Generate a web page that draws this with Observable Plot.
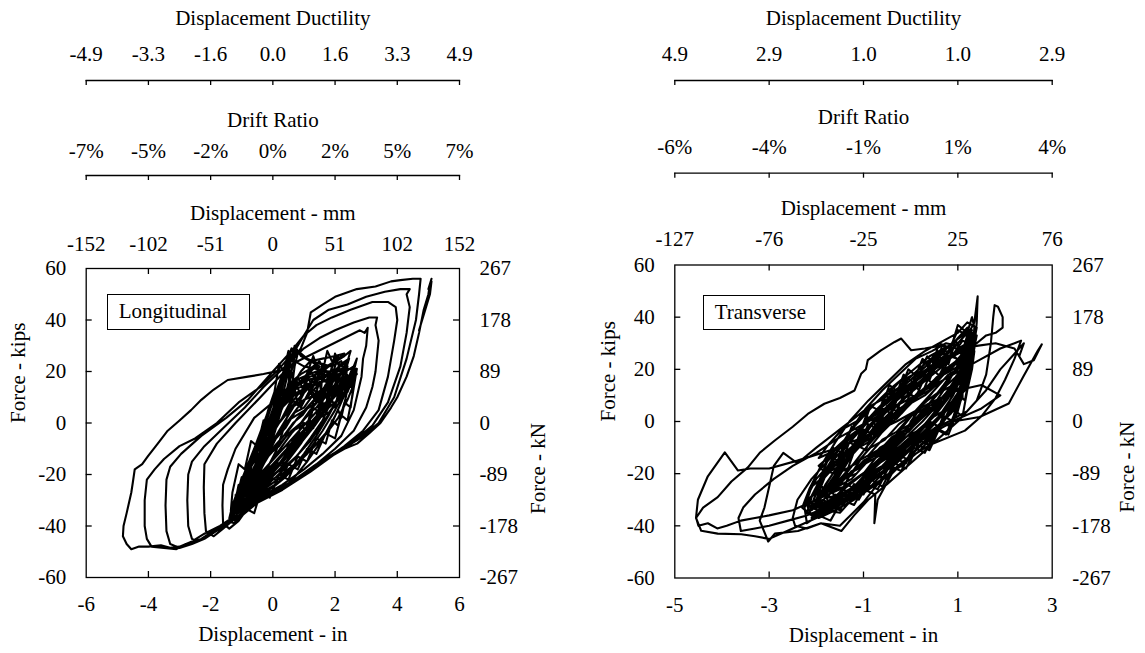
<!DOCTYPE html>
<html>
<head>
<meta charset="utf-8">
<script src="https://cdn.jsdelivr.net/npm/d3@7"></script>
<script src="https://cdn.jsdelivr.net/npm/@observablehq/plot@0.6"></script>
<style>
  html, body { margin: 0; padding: 0; background: #fff; }
  #page { position: relative; width: 1145px; height: 653px; overflow: hidden;
          font-family: "Liberation Serif", "Times New Roman", Times, "DejaVu Serif", serif; color: #000; }
  .panel { position: absolute; top: 0; height: 653px; }
  .layer { position: absolute; left: 0; top: 0; }
  .tag { position: absolute; box-sizing: border-box; border: 1.3px solid #000; background: #fff;
         font-size: 21px; line-height: 1; padding-left: 11px; display: flex; align-items: center; }
  svg { display: block; }
</style>
</head>
<body>
<div id="page"></div>
<script>
// ---------- axis ticks and labels ----------
const kipTicks = [-60, -40, -20, 0, 20, 40, 60];
const kipLabels = ["-60", "-40", "-20", "0", "20", "40", "60"];
const kNLabels = ["-267", "-178", "-89", "0", "89", "178", "267"];
const innerKipTicks = [-40, -20, 0, 20, 40];

const longDispTicks = [-6, -4, -2, 0, 2, 4, 6];
const longInLabels = ["-6", "-4", "-2", "0", "2", "4", "6"];
const longMmLabels = ["-152", "-102", "-51", "0", "51", "102", "152"];
const longDriftLabels = ["-7%", "-5%", "-2%", "0%", "2%", "5%", "7%"];
const longDuctilityLabels = ["-4.9", "-3.3", "-1.6", "0.0", "1.6", "3.3", "4.9"];
const longInnerTicks = [-4, -2, 0, 2, 4];

const transDispTicks = [-5, -3, -1, 1, 3];
const transInLabels = ["-5", "-3", "-1", "1", "3"];
const transMmLabels = ["-127", "-76", "-25", "25", "76"];
const transDriftLabels = ["-6%", "-4%", "-1%", "1%", "4%"];
const transDuctilityLabels = ["4.9", "2.9", "1.0", "1.0", "2.9"];
const transInnerTicks = [-3, -1, 1];

// ---------- longitudinal test: [displacement (in), force (kips)] ----------
const longElastic = [
  [0,0],[0.1,5],[0.2,10],[0.25,13],[0.15,8],[0,1],[-0.15,-6],[-0.3,-12],[-0.35,-14],[-0.2,-9],[0,-2],
  [0.15,7],[0.3,15],[0.38,20],[0.3,17],[0.1,8],[-0.1,-1],[-0.35,-11],[-0.55,-18],[-0.7,-23],[-0.6,-21],
  [-0.35,-14],[-0.1,-5],[0.15,6],[0.35,16],[0.5,24],[0.55,27],[0.45,24],[0.2,14],[-0.05,3],[-0.35,-9],
  [-0.65,-19],[-0.9,-27],[-1.05,-31],[-0.9,-30],[-0.6,-23],[-0.25,-13],[0.05,-2],[0.3,10],[0.5,20],
  [0.65,28],[0.6,29],[0.4,22],[0.1,12],[-0.2,1],[-0.55,-11],[-0.9,-23],[-1.15,-31],[-1.25,-35],
  [-1.1,-34],[-0.8,-28],[-0.4,-18],[0,-6],[0.3,6],[0.55,17],[0.7,26],[0.75,30]
];
const longCracked = [
  [0.7,27],[0.5,22],[0.2,14],[-0.2,3],[-0.6,-10],[-1.0,-22],[-1.3,-32],[-1.4,-37],[-1.2,-36],[-0.8,-31],
  [-0.3,-24],[0.3,-17],[0.8,-9],[1.1,-1],[1.3,8],[1.5,16],[1.55,12],[1.6,22],[1.5,24],[1.2,21],[0.9,19],
  [0.6,16],[0.3,10],[-0.1,1],[-0.5,-9],[-0.9,-20],[-1.2,-29],[-1.3,-34],[-1.15,-34],[-0.7,-29],[-0.2,-23],
  [0.4,-16],[0.9,-8],[1.3,0],[1.6,8],[1.7,5],[1.8,15],[2.0,22],[2.1,26],[1.9,24],[1.75,28],[1.6,20],
  [1.2,18],[0.8,15],[0.4,11],[0.0,3],[-0.5,-10],[-0.9,-21],[-1.2,-30],[-1.25,-33],[-1.0,-32],[-0.5,-27],
  [0.1,-21],[0.7,-14],[1.2,-6],[1.6,1],[1.9,9],[2.0,6],[2.2,17],[2.4,24],[2.5,28],[2.3,26],[1.9,23],
  [1.5,19],[1.3,26],[1.0,16],[0.6,13],[0.2,7],[-0.3,-3],[-0.8,-16],[-1.1,-26],[-1.3,-33],[-1.2,-34],
  [-0.8,-30],[-0.2,-25],[0.5,-19],[1.1,-12],[1.7,-4],[2.1,5],[2.2,2],[2.4,13],[2.6,20],[2.7,25],[2.6,22],
  [2.2,19],[2.0,27],[1.8,17],[1.3,15],[0.8,12],[0.3,6],[-0.2,-4],[-0.7,-16],[-1.0,-25],[-1.15,-29],
  [-0.9,-28],[-0.3,-24],[0.4,-19],[1.0,-13],[1.6,-6],[2.1,2],[2.4,9],[2.6,15],[2.7,21]
];
const longCoreRepeats = [
  [2.5,14],[2.3,18],[2.0,11],[1.8,16],[1.5,9],[1.2,13],[0.9,6],[0.6,9],[0.3,2],[0,-4],[-0.3,-10],
  [-0.6,-18],[-0.8,-22],[-1.0,-29],[-1.1,-33],[-0.95,-34],[-0.7,-28],[-0.5,-30],[-0.3,-22],[-0.1,-24],
  [0.1,-15],[0.3,-17],[0.5,-8],[0.7,-10],[0.9,-1],[1.1,-3],[1.3,6],[1.5,4],[1.7,13],[1.9,11],[2.1,19],
  [2.2,16],[2.35,24],[2.2,22],[2.0,25],[1.8,18],[1.6,23],[1.4,15],[1.2,21],[1.0,12],[0.8,18],[0.6,8],
  [0.4,12],[0.2,2],[0,-6],[-0.2,-3],[-0.4,-14],[-0.6,-12],[-0.8,-23],[-1.0,-21],[-1.2,-31],[-1.3,-36],
  [-1.15,-37],[-0.9,-33],[-0.6,-35],[-0.4,-27],[-0.1,-29],[0.2,-20],[0.5,-22],[0.8,-13],[1.1,-15],
  [1.4,-6],[1.7,-8],[1.9,1],[2.1,-1],[2.3,8],[2.5,6],[2.6,15],[2.5,19],[2.3,13],[2.1,17],[1.9,10],
  [1.7,15],[1.4,8],[1.1,14],[0.8,7],[0.6,20],[0.5,12],[0.55,26],[0.4,18],[0.2,10],[0,2],[-0.3,-8],
  [-0.5,-16],[-0.7,-14],[-0.9,-25],[-1.1,-24],[-1.25,-33],[-1.2,-30],[-1.0,-35],[-0.8,-27],[-0.5,-24],
  [-0.2,-18],[0.1,-11],[0.3,-4],[0.5,4],[0.6,13],[0.7,22],[0.8,27],[0.7,30],[0.6,24],[0.5,28],[0.35,20],
  [0.2,23],[0.05,12],[-0.15,5],[-0.35,-4],[-0.6,-13],[-0.85,-20],[-1.05,-27],[-1.2,-28],[-1.0,-30],
  [-0.7,-25],[-0.35,-20],[0,-16],[0.35,-12],[0.7,-6],[1.0,0],[1.3,-2],[1.5,7],[1.7,5],[1.9,14],[2.0,12],
  [2.2,20],[2.1,17],[1.9,21],[1.7,16],[1.5,20],[1.3,14],[1.1,18],[0.9,11],[0.7,16],[0.5,9],[0.3,13],
  [0.1,5],[-0.1,-2],[-0.3,1],[-0.5,-9],[-0.7,-7],[-0.9,-18],[-1.1,-16],[-1.3,-27],[-1.35,-34],[-1.2,-35],
  [-1.0,-31],[-0.75,-33],[-0.55,-26],[-0.3,-28],[-0.05,-21],[0.2,-23],[0.5,-16],[0.8,-18],[1.1,-10],
  [1.4,-12],[1.7,-4],[2.0,-6],[2.2,3],[2.4,1],[2.55,10],[2.7,21]
];
const longCoreLate = [
  [2.6,18],[2.2,15],[1.8,13],[1.4,11],[1.0,9],[0.6,6],[0.2,0],[-0.2,-8],[-0.6,-17],[-0.9,-25],[-1.15,-32],
  [-1.3,-37],[-1.1,-36],[-0.8,-32],[-0.4,-28],[0,-25],[0.4,-21],[0.8,-16],[1.2,-10],[1.6,-3],[2.0,5],
  [2.3,12],[2.5,17],
  [2.3,20],[2.0,17],[1.6,16],[1.2,14],[0.8,12],[0.45,9],[0.1,3],[-0.3,-6],[-0.65,-15],[-0.95,-24],
  [-1.2,-31],[-1.25,-34],[-1.0,-33],[-0.6,-29],[-0.2,-26],[0.2,-23],[0.6,-18],[1.0,-12],[1.4,-5],[1.8,3],
  [2.1,10],[2.35,18],[2.4,22],
  [2.2,21],[1.8,20],[1.4,21],[1.0,22],[0.7,24],[0.45,20],[0.2,12],[-0.1,2],[-0.45,-9],[-0.8,-20],
  [-1.05,-29],[-1.2,-35],[-1.0,-34],[-0.7,-27],[-0.4,-19],[-0.1,-9],[0.2,2],[0.45,13],[0.65,23],[0.75,29],
  [0.9,26],[1.2,24],[1.6,25],[2.0,26],[2.3,27],
  [2.0,24],[1.6,21],[1.2,19],[0.8,17],[0.5,14],[0.2,8],[-0.15,-1],[-0.5,-11],[-0.85,-21],[-1.1,-29],
  [-1.35,-36],[-1.2,-38],[-0.9,-35],[-0.5,-31],[-0.1,-28],[0.3,-26],[0.7,-21],[1.1,-15],[1.5,-8],[1.9,0],
  [2.2,8],[2.45,15],[2.6,22],[2.7,19],
  [2.4,16],[2.1,14],[1.7,10],[1.3,7],[0.9,4],[0.5,1],[0.1,-5],[-0.3,-13],[-0.7,-22],[-1.0,-30],[-1.1,-33],
  [-0.85,-31],[-0.5,-25],[-0.15,-20],[0.25,-15],[0.65,-10],[1.05,-5],[1.45,1],[1.85,8],[2.15,15],
  [2.3,20],[2.2,24],
  [1.9,22],[1.5,23],[1.1,25],[0.8,28],[0.55,26],[0.3,18],[0.0,8],[-0.35,-3],[-0.7,-14],[-1.0,-24],
  [-1.25,-32],[-1.4,-38],[-1.25,-39],[-0.95,-34],[-0.6,-28],[-0.25,-22],[0.15,-17],[0.55,-12],[0.95,-7],
  [1.35,-1],[1.75,6],[2.05,12],[2.3,19],[2.45,25],
  [2.2,23],[1.9,19],[1.5,17],[1.1,15],[0.7,13],[0.35,7],[0.0,-2],[-0.4,-12],[-0.75,-22],[-1.05,-30],
  [-1.2,-34],[-0.95,-33],[-0.55,-27],[-0.15,-21],[0.3,-18],[0.75,-13],[1.2,-7],[1.6,0],[2.0,7],[2.3,14],
  [2.55,21],[2.7,21]
];
const longCoreNarrow = [
  [2.6,16],[2.3,12],[2.0,8],[1.7,5],[1.4,2],[1.1,-2],[0.8,-6],[0.5,-10],[0.2,-14],[-0.1,-19],[-0.4,-23],
  [-0.7,-27],[-1.0,-31],[-1.2,-34],[-0.95,-33],[-0.65,-28],[-0.35,-24],[-0.05,-19],[0.25,-15],[0.55,-10],
  [0.85,-6],[1.15,-1],[1.45,3],[1.75,8],[2.05,12],[2.3,17],
  [2.0,18],[1.7,14],[1.4,10],[1.1,6],[0.8,2],[0.5,-3],[0.2,-7],[-0.1,-12],[-0.4,-17],[-0.7,-22],
  [-0.95,-27],[-1.15,-31],[-0.9,-30],[-0.6,-24],[-0.3,-19],[0,-14],[0.3,-9],[0.6,-4],[0.9,0],[1.2,5],
  [1.5,9],[1.8,14],[2.0,19],
  [1.7,20],[1.4,16],[1.1,13],[0.8,9],[0.5,5],[0.2,0],[-0.1,-5],[-0.4,-11],[-0.7,-17],[-1.0,-24],
  [-1.2,-30],[-1.0,-29],[-0.7,-22],[-0.4,-15],[-0.1,-9],[0.2,-4],[0.5,1],[0.8,6],[1.1,10],[1.4,14],[1.7,18],
  [1.4,22],[1.1,19],[0.8,15],[0.5,11],[0.2,5],[-0.1,-1],[-0.4,-8],[-0.7,-15],[-0.95,-22],[-1.2,-29],
  [-1.05,-31],[-0.75,-24],[-0.45,-17],[-0.15,-10],[0.15,-4],[0.45,2],[0.75,8],[1.05,13],[1.35,18],[1.5,22],
  [1.2,24],[0.9,20],[0.6,14],[0.3,8],[0,1],[-0.3,-6],[-0.6,-14],[-0.9,-22],[-1.15,-29],[-1.25,-32],
  [-1.0,-28],[-0.7,-21],[-0.4,-13],[-0.1,-6],[0.2,0],[0.5,6],[0.8,11],[1.1,15],[1.4,12],[1.7,10],
  [2.0,13],[2.3,16],[2.5,19],
  [2.2,14],[1.9,10],[1.6,7],[1.3,3],[1.0,-1],[0.7,-5],[0.4,-9],[0.1,-13],[-0.2,-17],[-0.5,-21],[-0.8,-26],
  [-1.05,-30],[-0.8,-30],[-0.5,-26],[-0.2,-22],[0.1,-18],[0.4,-14],[0.7,-9],[1.0,-5],[1.3,0],[1.6,4],
  [1.9,9],[2.2,13],[2.5,18],[2.7,21]
];
const longCoreMiddle = [
  [2.4,12],[2.1,9],[1.8,4],[1.5,2],[1.2,-3],[0.9,-5],[0.6,-10],[0.3,-12],[0,-17],[-0.3,-20],[-0.6,-25],
  [-0.9,-28],[-1.1,-32],[-0.85,-30],[-0.55,-22],[-0.25,-15],[0.05,-9],[0.35,-5],[0.65,0],[0.95,3],
  [1.25,8],[1.55,10],[1.85,15],[2.1,18],[2.3,22],
  [2.0,15],[1.7,11],[1.4,6],[1.1,3],[0.8,-2],[0.5,-4],[0.2,-9],[-0.1,-12],[-0.4,-18],[-0.7,-22],
  [-1.0,-29],[-0.8,-27],[-0.5,-19],[-0.2,-13],[0.1,-6],[0.4,-2],[0.7,4],[1.0,6],[1.3,11],[1.6,13],
  [1.9,18],[2.1,21],
  [1.8,12],[1.5,7],[1.2,4],[0.9,0],[0.6,-3],[0.3,-7],[0,-11],[-0.3,-15],[-0.6,-20],[-0.9,-26],[-1.15,-31],
  [-0.9,-31],[-0.6,-26],[-0.3,-21],[0,-16],[0.3,-12],[0.6,-8],[0.9,-4],[1.2,0],[1.5,4],[1.8,8],[2.1,12],
  [2.4,17],[2.7,21]
];
const longLoopsMid = [
  [2.4,21],[1.8,19],[1.2,17],[0.6,15],[0.0,8],[-0.6,2],[-1.2,-10],[-1.45,-18],[-1.6,-24],[-1.62,-32],
  [-1.6,-39],[-1.4,-41],[-1.1,-38],[-0.8,-33],[-0.3,-28],[0.3,-24],[1.0,-18],[1.6,-12],[2.2,-5],[2.6,5],
  [2.85,18],[2.9,25],[3.0,30],[3.05,37],[2.95,35],
  [2.8,36],[2.3,33],[1.8,30],[1.3,27],[0.8,24],[0.3,19],[-0.4,10],[-1.2,0],[-1.8,-8],[-2.2,-16],
  [-2.22,-25],[-2.2,-35],[-2.15,-42],[-1.9,-44],[-1.6,-41],[-1.2,-37],[-0.7,-32],[0,-27],[0.7,-22],
  [1.4,-16],[2.0,-10],[2.6,-3],[3.0,6],[3.2,14],[3.3,20],[3.4,32],[3.3,38],[3.35,41],
  [3.1,41],[2.6,39],[2.0,36],[1.5,33],[1.0,29],[0.4,22],[-0.3,14],[-0.9,6],[-1.6,-2],[-2.2,-9],
  [-2.6,-15],[-2.72,-20],[-2.75,-30],[-2.72,-40],[-2.6,-45],[-2.4,-46],[-2.0,-43],[-1.5,-40],[-1.0,-35],
  [-0.4,-30],[0.3,-25],[1.0,-20],[1.7,-14],[2.3,-9],[2.9,-3],[3.4,5],[3.7,18],[3.9,32],[4.0,40],[3.95,45]
];
const longLoopsLate = [
  [3.7,47],[3.2,47],[2.5,44],[1.9,41],[1.4,38],[1.0,34],[0.6,28],[0.0,20],[-0.8,9],[-1.5,2],[-2.3,-5],
  [-2.95,-12],[-3.3,-17],[-3.42,-22],[-3.45,-32],[-3.42,-42],[-3.3,-47],[-3.0,-48.5],[-2.6,-47],[-2.2,-45],
  [-1.7,-41],[-1.2,-37],[-0.6,-31],[0.2,-26],[1.0,-20],[1.8,-13],[2.6,-7],[3.2,-1],[3.7,8],[4.1,22],
  [4.3,35],[4.4,45],[4.3,50],[4.4,52],
  [4.1,52],[3.6,51],[3.0,49],[2.4,46],[1.8,44],[1.3,40],[1.1,36],[0.7,28],[0.2,21],[-0.4,14],[-1.1,8],
  [-1.8,0],[-2.5,-6],[-3.0,-9],[-3.5,-14],[-3.8,-18],[-4.05,-22],[-4.12,-30],[-4.12,-40],[-4.05,-45],
  [-3.9,-48],[-3.5,-48.5],[-3.1,-49],[-2.8,-47],[-2.3,-45],[-1.8,-41],[-1.2,-37],[-0.5,-31],[0.3,-26],
  [1.2,-19],[2.0,-12],[2.8,-6],[3.4,0],[3.9,10],[4.3,25],[4.6,40],[4.7,50],[4.75,56],
  [4.5,56],[4.1,55.5],[3.8,55],[3.3,53],[2.7,52],[2.0,49],[1.6,46],[1.22,43],[1.1,35],[0.9,29],[0.6,24],
  [0.26,20.5],[-0.3,19],[-0.8,18],[-1.45,16.7],[-1.9,13],[-2.3,9],[-2.63,5],[-3.0,1],[-3.38,-3],[-3.7,-8],
  [-4.02,-13],[-4.2,-16],[-4.44,-18],[-4.5,-23],[-4.55,-27],[-4.7,-35],[-4.8,-40],[-4.82,-44],[-4.7,-47],
  [-4.55,-49],[-4.3,-48],[-4.0,-48],[-3.6,-47.5],[-3.3,-48.5],[-3.0,-48],[-2.6,-46],[-2.2,-43],[-1.7,-40],
  [-1.2,-36],[-0.8,-31],[-0.2,-28],[0.26,-26],[0.8,-22],[1.3,-18],[1.86,-13],[2.3,-10],[2.71,-8],[3.1,-4],
  [3.46,0],[3.8,6],[4.0,10],[4.3,18],[4.53,26],[4.7,35],[4.85,44],[5.0,50],[5.05,54],[5.1,56],[5.0,52],
  [5.1,55],[5.05,50],[4.9,44],[4.7,36]
];

// ---------- transverse test: [displacement (in), force (kips)] ----------
const transElastic = [
  [0,0],[0.2,5],[0.4,10],[0.6,14],[0.5,12],[0.2,5],[-0.1,-3],[-0.4,-10],[-0.6,-15],[-0.5,-13],[-0.2,-7],
  [0.1,0],[0.4,7],[0.7,14],[0.9,19],[0.8,18],[0.5,12],[0.1,4],[-0.3,-5],[-0.7,-13],[-1.0,-20],[-0.9,-20],
  [-0.6,-15],[-0.2,-9],[0.3,-1],[0.7,8],[1.0,16],[1.15,23],[1.1,25],[0.8,21],[0.4,14],[-0.1,5],[-0.6,-4],
  [-1.0,-13],[-1.3,-21],[-1.45,-26],[-1.3,-27],[-0.9,-22],[-0.4,-15],[0.1,-7],[0.6,2],[0.9,10],[1.1,18],
  [1.25,26],[1.3,31],[1.1,29],[0.7,23],[0.2,15],[-0.3,6],[-0.8,-4],[-1.3,-14],[-1.6,-22],[-1.8,-28],
  [-1.75,-31],[-1.3,-28],[-0.8,-22],[-0.3,-15],[0.2,-7],[0.6,1],[1.0,10],[1.2,19],[1.3,27],[1.35,33],
  [1.2,35],[0.9,30],[0.5,24],[0.0,16],[-0.6,6],[-1.1,-4],[-1.6,-14],[-1.9,-22],[-2.05,-30],[-1.9,-34],
  [-1.5,-31],[-1.0,-26],[-0.75,-28],[-0.77,-39],[-0.7,-30],[-0.4,-20],[0.1,-11],[0.6,-2],[1.0,8],
  [1.2,18],[1.35,28],[1.4,38],[1.42,48]
];
const transCracked = [
  [1.35,38],[1.2,33],[1.0,35],[0.8,27],[0.5,26],[0.3,18],[0.0,14],[-0.3,8],[-0.7,2],[-1.0,-6],[-1.4,-12],
  [-1.7,-19],[-2.0,-25],[-2.2,-32],[-2.1,-36],[-1.8,-34],[-1.5,-35],[-1.2,-29],[-0.9,-26],[-0.6,-20],
  [-0.3,-16],[0.1,-9],[0.5,-3],[0.9,4],[1.1,12],[1.25,20],[1.3,28],[1.2,30],[1.0,27],[0.7,24],[0.4,19],
  [0.1,13],[-0.2,8],[-0.5,2],[-0.9,-6],[-1.3,-14],[-1.6,-21],[-1.85,-27],[-1.7,-29],[-1.4,-27],[-1.0,-23],
  [-0.6,-17],[-0.2,-10],[0.3,-4],[0.7,3],[1.0,11],[1.15,19],[1.2,26],[1.05,24],[0.8,20],[0.5,16],
  [0.2,11],[-0.1,6],[-0.5,-1],[-0.9,-9],[-1.2,-16],[-1.5,-23],[-1.6,-26],[-1.4,-25],[-1.1,-21],
  [-0.7,-16],[-0.3,-11],[0.1,-5],[0.5,2],[0.8,9],[1.0,16],[1.1,22]
];
const transCoreRepeats = [
  [0.9,18],[0.7,21],[0.5,14],[0.3,17],[0.1,9],[-0.1,12],[-0.3,4],[-0.5,6],[-0.7,-3],[-0.9,-1],[-1.1,-10],
  [-1.3,-8],[-1.5,-17],[-1.7,-16],[-1.9,-25],[-2.0,-30],[-1.85,-33],[-1.6,-28],[-1.4,-31],[-1.2,-24],
  [-1.0,-26],[-0.8,-18],[-0.6,-20],[-0.4,-12],[-0.2,-14],[0,-6],[0.2,-8],[0.4,0],[0.6,-2],[0.8,7],
  [1.0,5],[1.1,14],[1.2,12],[1.25,22],[1.3,30],[1.2,33],[1.1,27],[0.95,31],[0.8,22],[0.6,25],[0.4,16],
  [0.2,19],[0,10],[-0.2,13],[-0.4,3],[-0.6,5],[-0.8,-5],[-1.0,-3],[-1.2,-12],[-1.4,-10],[-1.6,-20],
  [-1.8,-19],[-2.0,-27],[-2.15,-35],[-2.0,-37],[-1.75,-32],[-1.5,-34],[-1.25,-26],[-1.0,-28],[-0.75,-20],
  [-0.5,-22],[-0.25,-13],[0,-15],[0.25,-5],[0.5,-7],[0.7,2],[0.9,0],[1.05,10],[1.15,8],[1.25,18],
  [1.3,25],[1.35,36],[1.3,40],[1.2,34],[1.0,37],[0.85,28],[0.6,30],[0.45,21],[0.25,24],[0.05,15],
  [-0.15,18],[-0.35,8],[-0.55,10],[-0.75,0],[-0.95,2],[-1.15,-8],[-1.35,-6],[-1.55,-15],[-1.75,-13],
  [-1.9,-22],[-2.1,-25],[-2.25,-33],[-2.2,-39],[-1.95,-36],[-1.7,-38],[-1.45,-30],[-1.2,-32],[-0.95,-24],
  [-0.7,-26],[-0.45,-17],[-0.2,-19],[0.05,-10],[0.3,-12],[0.55,-3],[0.75,-5],[0.95,4],[1.1,2],[1.2,12],
  [1.3,20],[1.35,27],[1.2,29],[1.05,23],[0.85,26],[0.65,17],[0.45,20],[0.25,11],[0.05,14],[-0.15,4],
  [-0.35,7],[-0.55,-3],[-0.75,-1],[-0.95,-11],[-1.15,-9],[-1.35,-19],[-1.55,-18],[-1.7,-26],[-1.6,-29],
  [-1.35,-24],[-1.1,-27],[-0.85,-19],[-0.6,-22],[-0.35,-14],[-0.1,-16],[0.15,-7],[0.4,-9],[0.65,0],
  [0.85,-2],[1.0,8],[1.1,16],[1.2,24],[1.0,27],[0.8,24],[0.65,28],[0.5,22],[0.35,25],[0.15,17],
  [-0.05,20],[-0.25,11],[-0.45,14],[-0.65,4],[-0.85,6],[-1.05,-4],[-1.25,-2],[-1.45,-12],[-1.65,-10],
  [-1.85,-19],[-2.0,-22],[-2.2,-29],[-2.1,-34],[-1.85,-30],[-1.6,-33],[-1.35,-27],[-1.1,-30],[-0.85,-22],
  [-0.6,-25],[-0.35,-16],[-0.1,-18],[0.15,-9],[0.4,-11],[0.6,-3],[0.8,-5],[1.0,4],[1.15,14],[1.25,23],
  [1.1,22]
];
const transCoreLate = [
  [1.2,28],[0.9,25],[0.5,20],[0.1,14],[-0.3,8],[-0.7,1],[-1.1,-7],[-1.5,-16],[-1.8,-24],[-2.0,-31],
  [-1.8,-34],[-1.5,-32],[-1.1,-27],[-0.7,-21],[-0.3,-15],[0.1,-8],[0.5,-1],[0.8,7],[1.05,16],[1.25,26],
  [1.3,33],
  [1.1,33],[0.8,29],[0.4,25],[0,19],[-0.4,13],[-0.8,6],[-1.2,-2],[-1.55,-11],[-1.85,-20],[-2.1,-29],
  [-2.2,-35],[-1.95,-37],[-1.6,-34],[-1.2,-30],[-0.8,-25],[-0.4,-19],[0,-13],[0.4,-6],[0.75,2],[1.0,11],
  [1.2,21],[1.35,31],[1.4,36],
  [1.2,38],[1.0,34],[0.7,31],[0.3,27],[-0.1,22],[-0.5,15],[-0.9,8],[-1.3,0],[-1.6,-8],[-1.9,-17],
  [-2.15,-26],[-2.3,-33],[-2.1,-36],[-1.8,-35],[-1.4,-31],[-1.0,-27],[-0.6,-22],[-0.2,-17],[0.2,-11],
  [0.55,-4],[0.85,4],[1.1,14],[1.3,24],[1.4,33],
  [1.25,30],[0.95,26],[0.6,23],[0.2,17],[-0.2,11],[-0.6,4],[-1.0,-4],[-1.35,-12],[-1.65,-20],[-1.9,-27],
  [-1.95,-31],[-1.7,-31],[-1.35,-27],[-0.95,-23],[-0.55,-17],[-0.15,-10],[0.25,-3],[0.6,5],[0.9,13],
  [1.1,21],[1.2,27],
  [1.0,29],[0.75,30],[0.45,27],[0.1,24],[-0.25,18],[-0.6,12],[-0.95,5],[-1.3,-4],[-1.6,-13],[-1.85,-21],
  [-2.05,-28],[-2.2,-30],[-2.0,-33],[-1.7,-30],[-1.35,-25],[-1.0,-20],[-0.65,-14],[-0.3,-8],[0.05,-2],
  [0.4,4],[0.7,12],[0.95,20],[1.15,28],[1.3,35],
  [1.15,33],[0.85,27],[0.5,22],[0.15,16],[-0.2,10],[-0.55,3],[-0.9,-5],[-1.25,-13],[-1.55,-22],
  [-1.75,-29],[-1.55,-30],[-1.2,-25],[-0.85,-18],[-0.5,-11],[-0.15,-4],[0.2,3],[0.55,10],[0.85,17],
  [1.1,24],[1.25,30],
  [1.1,31],[0.8,23],[0.4,17],[0,11],[-0.4,4],[-0.8,-3],[-1.2,-11],[-1.55,-19],[-1.85,-27],[-2.1,-33],
  [-1.85,-35],[-1.5,-30],[-1.15,-24],[-0.8,-18],[-0.45,-12],[-0.1,-6],[0.25,0],[0.6,7],[0.9,15],
  [1.15,23],[1.1,22]
];
const transCoreNarrow = [
  [1.2,24],[0.9,18],[0.6,15],[0.3,10],[0,7],[-0.3,1],[-0.6,-2],[-0.9,-8],[-1.2,-11],[-1.5,-17],[-1.8,-20],
  [-1.95,-25],[-1.7,-26],[-1.4,-21],[-1.1,-18],[-0.8,-12],[-0.5,-9],[-0.2,-3],[0.1,0],[0.4,6],[0.7,9],
  [1.0,15],[1.2,20],
  [1.25,31],[1.0,27],[0.7,22],[0.4,19],[0.1,13],[-0.2,11],[-0.5,5],[-0.8,2],[-1.1,-4],[-1.4,-7],[-1.7,-13],
  [-1.95,-17],[-1.8,-20],[-1.5,-15],[-1.2,-11],[-0.9,-6],[-0.6,-2],[-0.3,4],[0,8],[0.3,13],[0.6,16],
  [0.9,22],[1.15,27],[1.3,34],
  [1.1,14],[0.85,10],[0.55,6],[0.25,2],[-0.05,-2],[-0.35,-7],[-0.65,-10],[-0.95,-16],[-1.25,-19],
  [-1.55,-25],[-1.85,-28],[-2.05,-33],[-1.8,-33],[-1.5,-28],[-1.2,-26],[-0.9,-20],[-0.6,-17],[-0.3,-11],
  [0,-8],[0.3,-2],[0.6,1],[0.9,7],[1.15,12],
  [1.3,29],[1.05,23],[0.75,20],[0.45,14],[0.15,11],[-0.15,5],[-0.45,2],[-0.75,-4],[-1.05,-7],[-1.35,-13],
  [-1.65,-16],[-1.9,-22],[-2.0,-28],[-1.75,-25],[-1.45,-19],[-1.15,-16],[-0.85,-10],[-0.55,-7],
  [-0.25,-1],[0.05,3],[0.35,8],[0.65,12],[0.95,17],[1.2,23],[1.35,30],
  [1.15,19],[0.9,14],[0.6,11],[0.3,5],[0,2],[-0.3,-4],[-0.6,-7],[-0.9,-13],[-1.2,-16],[-1.5,-22],
  [-1.75,-25],[-2.0,-31],[-1.85,-30],[-1.55,-25],[-1.25,-22],[-0.95,-16],[-0.65,-13],[-0.35,-7],
  [-0.05,-4],[0.25,2],[0.55,5],[0.85,11],[1.1,16],[1.25,24],
  [1.2,36],[0.95,31],[0.65,27],[0.35,23],[0.05,18],[-0.25,15],[-0.55,9],[-0.85,6],[-1.15,0],[-1.45,-3],
  [-1.75,-9],[-1.95,-14],[-1.7,-12],[-1.4,-7],[-1.1,-3],[-0.8,3],[-0.5,7],[-0.2,12],[0.1,16],[0.4,21],
  [0.7,25],[1.0,30],[1.25,35],
  [1.05,10],[0.8,5],[0.5,2],[0.2,-3],[-0.1,-6],[-0.4,-11],[-0.7,-15],[-1.0,-20],[-1.3,-24],[-1.6,-29],
  [-1.9,-33],[-2.1,-37],[-1.85,-36],[-1.55,-32],[-1.25,-28],[-0.95,-24],[-0.65,-20],[-0.35,-15],
  [-0.05,-11],[0.25,-6],[0.55,-2],[0.85,3],[1.1,9],[1.1,22]
];
const transCoreMiddle = [
  [1.25,27],[1.0,21],[0.7,18],[0.4,12],[0.1,9],[-0.2,3],[-0.5,0],[-0.8,-6],[-1.1,-9],[-1.4,-15],[-1.7,-18],
  [-1.95,-24],[-1.75,-27],[-1.45,-22],[-1.15,-20],[-0.85,-14],[-0.55,-11],[-0.25,-5],[0.05,-2],[0.35,4],
  [0.65,7],[0.95,13],[1.2,18],[1.3,26],
  [1.1,25],[0.85,20],[0.55,17],[0.25,11],[-0.05,8],[-0.35,2],[-0.65,-1],[-0.95,-7],[-1.25,-10],[-1.55,-16],
  [-1.85,-19],[-2.05,-27],[-1.9,-29],[-1.6,-24],[-1.3,-21],[-1.0,-15],[-0.7,-12],[-0.4,-6],[-0.1,-3],
  [0.2,3],[0.5,6],[0.8,12],[1.05,15],[1.2,22],[1.1,22]
];
const transLoopsMid = [
  [1.0,24],[0.7,26],[0.3,22],[-0.2,14],[-0.7,5],[-1.2,-5],[-1.7,-14],[-2.1,-22],[-2.4,-30],[-2.5,-37],
  [-2.45,-40],[-2.2,-41],[-1.9,-39],[-1.47,-42],[-1.2,-36],[-0.9,-30],[-0.5,-24],[0,-16],[0.5,-8],[1.0,0],
  [1.4,8],[1.6,18],[1.7,30],[1.75,40],[1.78,44.6],[1.85,44],[1.95,40],[1.95,36],[1.8,34],[1.6,33],
  [1.4,30],[1.0,27],[0.5,22],[0,16],[-0.5,10],[-1.0,4],[-1.5,-3],[-2.0,-10],[-2.4,-16],[-2.7,-12],
  [-2.9,-17],[-3.0,-25],[-3.1,-33],[-3.2,-38],[-3.02,-46],[-2.88,-43],[-2.39,-42],[-1.9,-39],[-1.5,-40],
  [-1.0,-31],[-0.7,-24],[-0.2,-16],[0.4,-9],[1.15,-3.5],[1.5,2],[1.8,9],[2.0,16],[2.2,24],[2.34,31],
  [2.2,30],[1.9,28]
];
const transLoopsLate = [
  [1.5,24],[1.0,19],[0.4,13],[-0.3,6],[-0.9,0],[-1.5,-6],[-2.0,-12],[-2.5,-17],[-2.9,-22],[-3.3,-28],
  [-3.55,-33],[-3.65,-37],[-3.6,-42],[-3.3,-41],[-3.0,-40],[-2.6,-38],[-2.2,-36],[-1.8,-33],[-1.4,-28],
  [-0.9,-22],[-0.3,-14],[0.3,-6],[0.9,0],[1.46,1.7],[2.08,6.9],[2.38,17],[2.69,27],[2.78,29.6],
  [2.61,23.5],[2.4,22],
  [2.2,28],[1.8,30],[1.4,29],[1.0,28],[0.6,29],[0.3,28],[0.01,27.3],[-0.2,31.8],[-0.34,30.5],
  [-0.63,27.3],[-0.91,23.5],[-0.95,20],[-1.05,18.3],[-1.19,11.9],[-1.5,9],[-1.83,6.8],[-2.18,2.9],
  [-2.5,-2],[-2.88,-7.3],[-3.2,-12],[-3.45,-17.6],[-3.8,-23],[-4.09,-29],[-4.4,-33],[-4.55,-37],
  [-4.44,-41.9],[-4.09,-43],[-3.59,-43.2],[-3.3,-44],[-3.0,-45],[-2.5,-41],[-2.0,-37],[-1.5,-31],
  [-1.0,-24],[-0.5,-18],[0,-10],[0.5,-4],[1.0,1],[1.5,5],[1.9,10],
  [1.5,14],[1.0,12],[0.4,7],[-0.3,0],[-1.0,-6],[-1.7,-11],[-2.4,-15],[-3.0,-18],[-3.4,-18],[-3.66,-18.8],
  [-3.94,-11.8],[-4.3,-21],[-4.51,-30],[-4.55,-36.8],[-4.5,-40],[-4.3,-39],[-4.1,-41],[-3.9,-40],
  [-3.6,-38],[-3.3,-37],[-3.0,-36],[-2.5,-34],[-2.0,-30],[-1.5,-26],[-1.0,-20],[-0.5,-14],[0,-8],
  [0.6,-2],[1.2,4],[1.6,12],[1.9,20],[2.2,26],[2.4,30],[2.3,25]
];

// ---------- drawing ----------
const FONT = '"Liberation Serif", "Times New Roman", Times, "DejaVu Serif", serif';
const FS = 21;
const baseStyle = {fontFamily: FONT, fontSize: FS + "px", color: "#000", background: "transparent", overflow: "visible"};
const lookup = (values, labels) => d => labels[values.indexOf(d)] ?? "";

// A secondary scale (ductility or drift) drawn as a line with hanging ticks and labels above
function scaleStrip(p, s) {
  return Plot.plot({
    width: p.width, height: s.lineY + 9,
    marginTop: s.lineY, marginBottom: 4, marginLeft: p.marginLeft, marginRight: p.marginRight,
    style: baseStyle,
    x: {domain: p.xDomain},
    marks: [
      Plot.frame({anchor: "top", stroke: "#000", strokeWidth: 1.3}),
      Plot.tickX(p.xTicks, {x: d => d, stroke: "#000", strokeWidth: 1.3}),
      Plot.axisX({anchor: "top", ticks: p.xTicks, tickSize: 0, tickPadding: s.pad,
                  tickFormat: lookup(p.xTicks, s.labels), label: null}),
      Plot.text([s.title], {text: d => d, frameAnchor: "top", lineAnchor: "middle", dy: s.titleY - s.lineY})
    ]
  });
}

function hysteresis(p) {
  const H = p.height - p.marginTop - p.marginBottom;
  const W = p.width - p.marginLeft - p.marginRight;
  const pts = p.path.map(([d, f]) => ({d, f}));
  const tick = {stroke: "#000", strokeWidth: 1.3};
  return Plot.plot({
    width: p.width, height: p.height,
    marginTop: p.marginTop, marginBottom: p.marginBottom,
    marginLeft: p.marginLeft, marginRight: p.marginRight,
    style: baseStyle,
    x: {domain: p.xDomain},
    y: {domain: [-60, 60]},
    marks: [
      Plot.line(pts, {x: "d", y: "f", stroke: "#000", strokeWidth: 2.1, strokeLinejoin: "round"}),
      Plot.frame({stroke: "#000", strokeWidth: 1.3}),
      Plot.tickX(p.innerTicks, {x: d => d, insetTop: H - 6, ...tick}),
      Plot.tickX(p.innerTicks, {x: d => d, insetBottom: H - 6, ...tick}),
      Plot.tickY(innerKipTicks, {y: d => d, insetRight: W - 6, ...tick}),
      Plot.tickY(innerKipTicks, {y: d => d, insetLeft: W - 6, ...tick}),
      Plot.axisX({anchor: "bottom", ticks: p.xTicks, tickSize: 0, tickPadding: 19,
                  tickFormat: lookup(p.xTicks, p.inLabels), label: null}),
      Plot.axisX({anchor: "top", ticks: p.xTicks, tickSize: 0, tickPadding: p.mmPad,
                  tickFormat: lookup(p.xTicks, p.mmLabels), label: null}),
      Plot.axisY({anchor: "left", ticks: kipTicks, tickSize: 0, tickPadding: 20,
                  tickFormat: lookup(kipTicks, kipLabels), label: null}),
      Plot.axisY({anchor: "right", ticks: kipTicks, tickSize: 0, tickPadding: 20,
                  tickFormat: lookup(kipTicks, kNLabels), label: null}),
      Plot.text(["Displacement - in"], {text: d => d, frameAnchor: "bottom", lineAnchor: "middle", dy: 57}),
      Plot.text(["Displacement - mm"], {text: d => d, frameAnchor: "top", lineAnchor: "middle", dy: p.mmTitleY - p.marginTop}),
      Plot.text(["Force - kips"], {text: d => d, frameAnchor: "left", lineAnchor: "middle", dx: -p.kipsGap, rotate: -90}),
      Plot.text(["Force - kN"], {text: d => d, frameAnchor: "right", lineAnchor: "middle", dx: p.kNGap, rotate: -90})
    ]
  });
}

const panels = [
  {
    left: 0, width: 572, height: 653,
    marginLeft: 85.7, marginRight: 113, marginTop: 268, marginBottom: 76,
    xDomain: [-6, 6], xTicks: longDispTicks, innerTicks: longInnerTicks,
    inLabels: longInLabels, mmLabels: longMmLabels, mmPad: 17.5, mmTitleY: 213,
    kipsGap: 68.4, kNGap: 78.4,
    path: [...longElastic, ...longCracked, ...longCoreRepeats, ...longCoreLate, ...longCoreNarrow,
           ...longCoreMiddle, ...longLoopsMid, ...longLoopsLate],
    strips: [
      {title: "Displacement Ductility", labels: longDuctilityLabels, lineY: 80, pad: 19.4, titleY: 17.3},
      {title: "Drift Ratio", labels: longDriftLabels, lineY: 175, pad: 17.7, titleY: 120}
    ],
    tag: {text: "Longitudinal", x: 106.7, y: 294, w: 143.5, h: 35.5}
  },
  {
    left: 572, width: 573, height: 653,
    marginLeft: 102.3, marginRight: 93.3, marginTop: 264.5, marginBottom: 75.5,
    xDomain: [-5, 3], xTicks: transDispTicks, innerTicks: transInnerTicks,
    inLabels: transInLabels, mmLabels: transMmLabels, mmPad: 19.2, mmTitleY: 208,
    kipsGap: 67, kNGap: 75,
    path: [...transElastic, ...transCracked, ...transCoreRepeats, ...transCoreLate, ...transCoreNarrow,
           ...transCoreMiddle, ...transLoopsMid, ...transLoopsLate],
    strips: [
      {title: "Displacement Ductility", labels: transDuctilityLabels, lineY: 80, pad: 19.4, titleY: 17.3},
      {title: "Drift Ratio", labels: transDriftLabels, lineY: 172.7, pad: 18.7, titleY: 117}
    ],
    tag: {text: "Transverse", x: 130.7, y: 295, w: 122.3, h: 35}
  }
];

const page = document.getElementById("page");
for (const p of panels) {
  const div = document.createElement("div");
  div.className = "panel";
  div.style.left = p.left + "px";
  div.style.width = p.width + "px";
  page.appendChild(div);

  const main = hysteresis(p);
  main.classList.add("layer");
  div.appendChild(main);

  for (const s of p.strips) {
    const strip = scaleStrip(p, s);
    strip.classList.add("layer");
    div.appendChild(strip);
  }

  const tag = document.createElement("div");
  tag.className = "tag";
  tag.textContent = p.tag.text;
  Object.assign(tag.style, {left: p.tag.x + "px", top: p.tag.y + "px", width: p.tag.w + "px", height: p.tag.h + "px"});
  div.appendChild(tag);
}
</script>
</body>
</html>
